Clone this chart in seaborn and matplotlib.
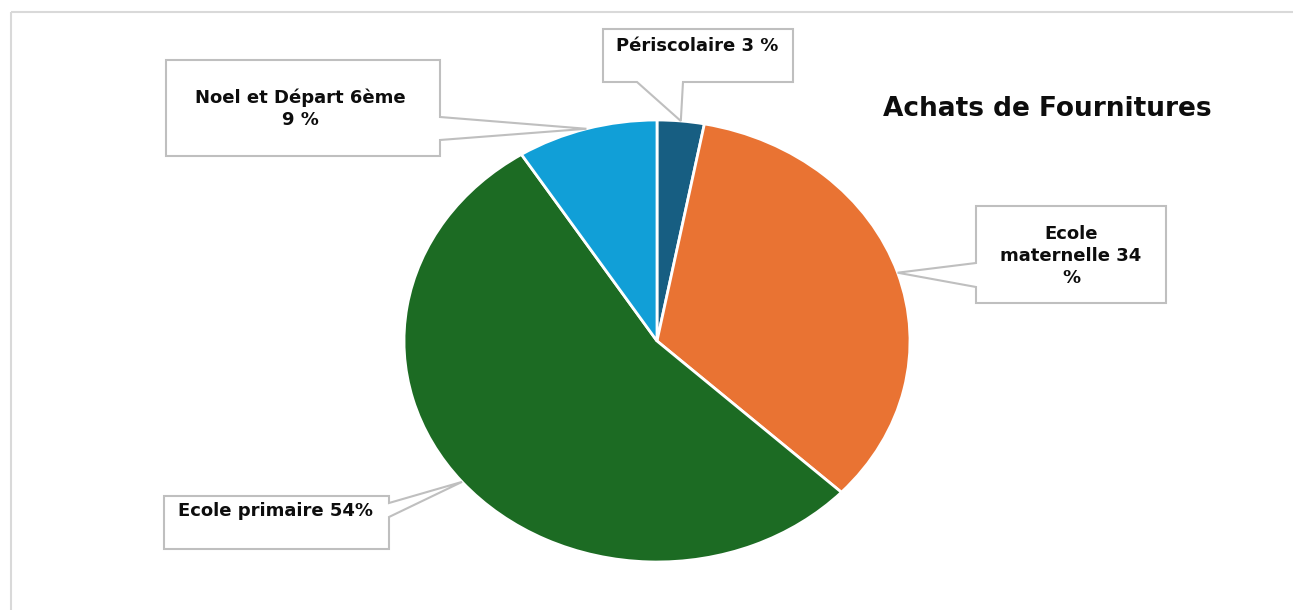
import matplotlib
matplotlib.use("Agg")
import matplotlib.pyplot as plt
from matplotlib.patches import Polygon, Rectangle
import numpy as np
import seaborn as sns

# Data
categories = ["Périscolaire", "Ecole maternelle", "Ecole primaire", "Noel et Départ 6ème"]
shares = [3, 34, 54, 9]
label_texts = ["Périscolaire 3 %", "Ecole\nmaternelle 34\n%", "Ecole primaire 54%", "Noel et Départ 6ème\n9 %"]
colors = ["#175e82", "#e97333", "#1c6b23", "#119fd7"]
title = "Achats de Fournitures"

sns.set_theme(style="white")
plt.rcParams["font.family"] = ["DejaVu Sans"]

W, H = 1293, 610
fig = plt.figure(figsize=(W / 100, H / 100), dpi=100)
fig.patch.set_facecolor("white")

# Pie area (pixel box, top-left origin): x 404..910, y 120..562
px0, px1, py0, py1 = 404, 910, 120, 562
pie_ax = fig.add_axes([px0 / W, 1 - py1 / H, (px1 - px0) / W, (py1 - py0) / H])
wedges, _ = pie_ax.pie(shares, colors=sns.color_palette(colors), startangle=90,
                       counterclock=False, radius=1,
                       wedgeprops=dict(edgecolor="white", linewidth=2))
pie_ax.set_aspect("auto")
pie_ax.set_xlim(-1, 1)
pie_ax.set_ylim(-1, 1)
pie_ax.axis("off")

# Overlay in pixel coordinates for frame, callouts and title
ov = fig.add_axes([0, 0, 1, 1], zorder=5)
ov.set_xlim(0, W)
ov.set_ylim(H, 0)
ov.axis("off")

ov.add_patch(Rectangle((11, 12), W + 20, H + 20, fill=False, edgecolor="#d9d9d9", linewidth=1.5))


def tip_point(w):
    th = np.deg2rad((w.theta1 + w.theta2) / 2)
    disp = pie_ax.transData.transform((np.cos(th), np.sin(th)))
    return ov.transData.inverted().transform(disp)


# box: (x0, y0, x1, y1), side where the pointer leaves, pointer base (a, b)
callouts = [
    dict(box=(603, 29, 793, 82), side="bottom", base=(637, 683), text_xy=(697, 46)),
    dict(box=(976, 206, 1166, 303), side="left", base=(263, 287), text_xy=(1071, 256)),
    dict(box=(164, 496, 389, 549), side="right", base=(503, 517), text_xy=(275, 511)),
    dict(box=(166, 60, 440, 156), side="right", base=(117, 140), text_xy=(300, 109)),
]

for w, c, txt in zip(wedges, callouts, label_texts):
    x0, y0, x1, y1 = c["box"]
    a, b = c["base"]
    tx, ty = tip_point(w)
    if c["side"] == "bottom":
        verts = [(x0, y0), (x1, y0), (x1, y1), (b, y1), (tx, ty), (a, y1), (x0, y1)]
    elif c["side"] == "left":
        verts = [(x0, y0), (x1, y0), (x1, y1), (x0, y1), (x0, b), (tx, ty), (x0, a)]
    else:
        verts = [(x0, y0), (x1, y0), (x1, a), (tx, ty), (x1, b), (x1, y1), (x0, y1)]
    ov.add_patch(Polygon(verts, closed=True, facecolor="white", edgecolor="#bfbfbf",
                         linewidth=1.5, joinstyle="miter"))
    ov.text(c["text_xy"][0], c["text_xy"][1], txt, ha="center", va="center",
            fontsize=13, fontweight="bold", color="#0d0d0d", linespacing=1.3)

ov.text(1047, 109, title, ha="center", va="center", fontsize=19,
        fontweight="bold", color="#0d0d0d")

fig.savefig("out.png", dpi=100, facecolor="white")
